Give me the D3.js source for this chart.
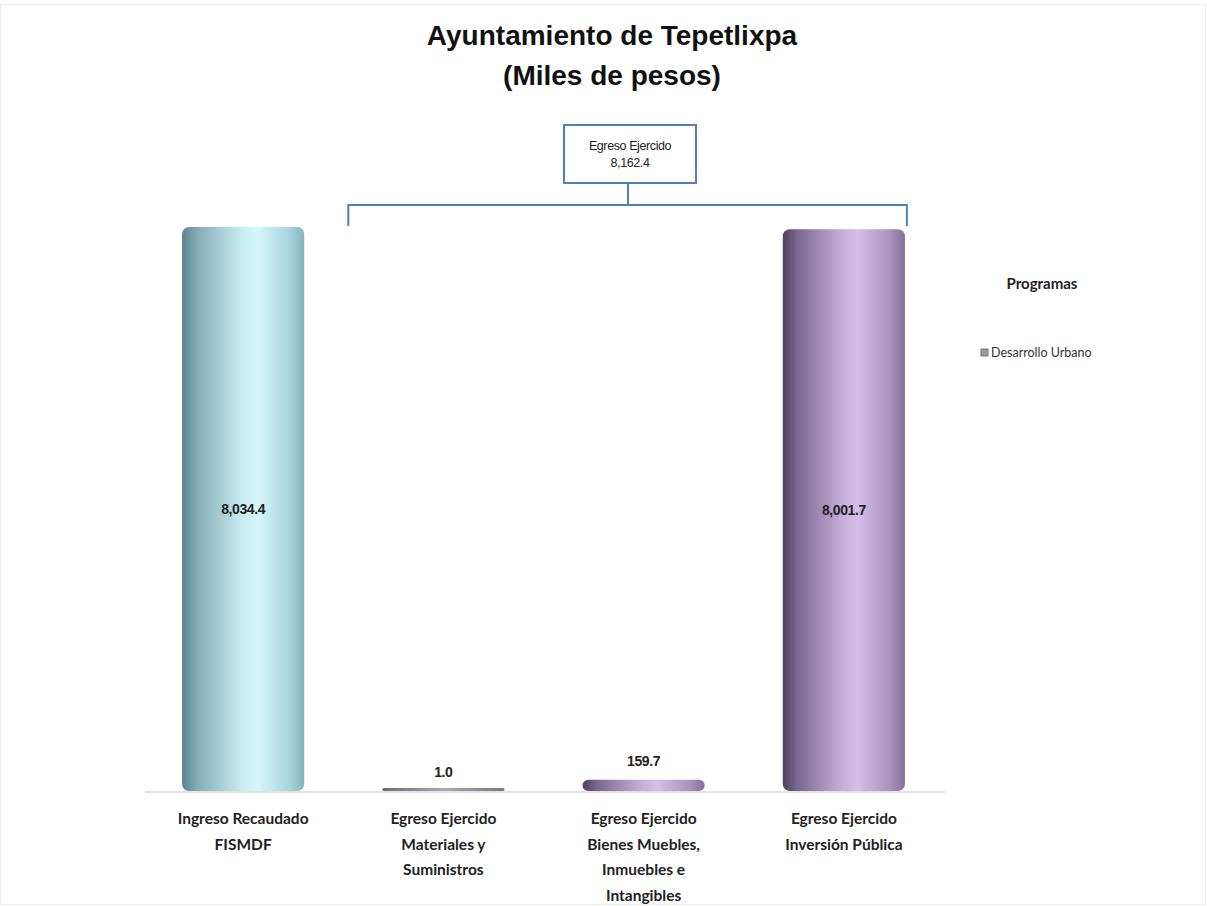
<!DOCTYPE html>
<html><head><meta charset="utf-8">
<script src="https://cdn.jsdelivr.net/npm/d3@7"></script>
<style>body{margin:0;background:#fff}svg{display:block}</style>
</head><body>
<script>
const categories = [
  ["Ingreso Recaudado","FISMDF"],
  ["Egreso Ejercido","Materiales y","Suministros"],
  ["Egreso Ejercido","Bienes Muebles,","Inmuebles e","Intangibles"],
  ["Egreso Ejercido","Inversión Pública"]
];
const values = [8034.4, 1.0, 159.7, 8001.7];
const valueLabels = ["8,034.4","1.0","159.7","8,001.7"];
const palettes = ["cyan","gray","purple","purple"];
const totalLabel = ["Egreso Ejercido","8,162.4"];
const legendTitle = "Programas";
const legendItems = ["Desarrollo Urbano"];

const W=1207,H=906;
const svg=d3.select("body").append("svg").attr("width",W).attr("height",H);
svg.append("rect").attr("x",0.5).attr("y",4.5).attr("width",W-2).attr("height",H-6).attr("fill","#fff").attr("stroke","#eeeeee");

const defs=svg.append("defs");
const grads={
  cyan:[["0%","#5a8490"],["12%","#84aab4"],["50%","#c9eef5"],["62%","#d3f7fc"],["88%","#a8d4dc"],["100%","#88b3bb"]],
  purple:[["0%","#4e4160"],["12%","#7a6890"],["50%","#c9b1dd"],["62%","#d4bde7"],["88%","#a891bd"],["100%","#85709a"]],
  gray:[["0%","#6d6d78"],["50%","#a8a8b2"],["100%","#7a7a84"]]
};
Object.entries(grads).forEach(([k,stops])=>{
  const g=defs.append("linearGradient").attr("id","g-"+k).attr("x1","0").attr("x2","1").attr("y1","0").attr("y2","0");
  stops.forEach(s=>g.append("stop").attr("offset",s[0]).attr("stop-color",s[1]));
});

const x=d3.scaleBand().domain(d3.range(values.length)).range([142,945]).paddingInner(0.39).paddingOuter(0.2);
const baseY=791;
const y=d3.scaleLinear().domain([0,8034.4]).range([baseY,227]);

// title
svg.append("text").attr("x",612).attr("y",45).attr("text-anchor","middle").attr("font-family","Liberation Sans, Arial").attr("font-weight","bold").attr("font-size",28).attr("fill","#111").text("Ayuntamiento de Tepetlixpa");
svg.append("text").attr("x",612).attr("y",85).attr("text-anchor","middle").attr("font-family","Liberation Sans, Arial").attr("font-weight","bold").attr("font-size",28).attr("fill","#111").text("(Miles de pesos)");

// axis line
svg.append("line").attr("x1",145).attr("x2",945).attr("y1",baseY+1).attr("y2",baseY+1).attr("stroke","#d8d8d8").attr("stroke-width",1.5);

// bars
const bw=x.bandwidth();
values.forEach((v,i)=>{
  const top=y(v);
  let h=baseY-top;
  let yy=top;
  if(h<3){h=3;yy=baseY-3;}
  const rr=Math.min(7,h/2);
  svg.append("rect").attr("x",x(i)).attr("y",yy).attr("width",bw).attr("height",h).attr("rx",rr).attr("ry",rr)
    .attr("fill","url(#g-"+palettes[i]+")");
});

// value labels
const lblFont="Liberation Sans Narrow, Liberation Sans, Arial";
values.forEach((v,i)=>{
  const cx=x(i)+bw/2;
  const h=baseY-y(v);
  const ty = h>100 ? (y(v)+baseY)/2+5 : y(v)-14;
  svg.append("text").attr("x",cx).attr("y",ty).attr("text-anchor","middle").attr("font-family",lblFont).attr("font-weight","bold").attr("font-size",14).attr("fill","#222").attr("letter-spacing",-0.4).text(valueLabels[i]);
});

// category labels
categories.forEach((lines,i)=>{
  const cx=x(i)+bw/2;
  const t=svg.append("text").attr("text-anchor","middle").attr("font-family","Lato, Open Sans, sans-serif").attr("font-weight","bold").attr("font-size",15.5).attr("fill","#222");
  lines.forEach((l,j)=>t.append("tspan").attr("x",cx).attr("y",824+j*25.5).text(l));
});

// bracket
const bx1=x(1)-34, bx2=x(3)+bw/2+63;
const bc="#4f81b4";
svg.append("path").attr("d",`M${bx1},226V205H${bx2}V226`).attr("fill","none").attr("stroke",bc).attr("stroke-width",2);
svg.append("line").attr("x1",628).attr("x2",628).attr("y1",183).attr("y2",205).attr("stroke",bc).attr("stroke-width",2);
svg.append("rect").attr("x",564).attr("y",125).attr("width",132).attr("height",58).attr("fill","#fff").attr("stroke",bc).attr("stroke-width",2);
totalLabel.forEach((t,j)=>svg.append("text").attr("x",630).attr("y",150+j*17).attr("text-anchor","middle").attr("font-family",lblFont).attr("font-size",12.5).attr("fill","#222").attr("letter-spacing",-0.4).text(t));

// legend
svg.append("text").attr("x",1042).attr("y",289).attr("text-anchor","middle").attr("font-family","Lato, Open Sans, sans-serif").attr("font-weight","bold").attr("font-size",15).attr("fill","#222").text(legendTitle);
legendItems.forEach((t,j)=>{
  svg.append("rect").attr("x",981).attr("y",349+j*20).attr("width",7).attr("height",7).attr("fill","#9a9aa4").attr("stroke","#666").attr("stroke-width",0.8);
  svg.append("text").attr("x",991).attr("y",357+j*20).attr("font-family","Lato, Open Sans, sans-serif").attr("font-size",12.5).attr("fill","#333").text(t);
});
</script>
</body></html>
